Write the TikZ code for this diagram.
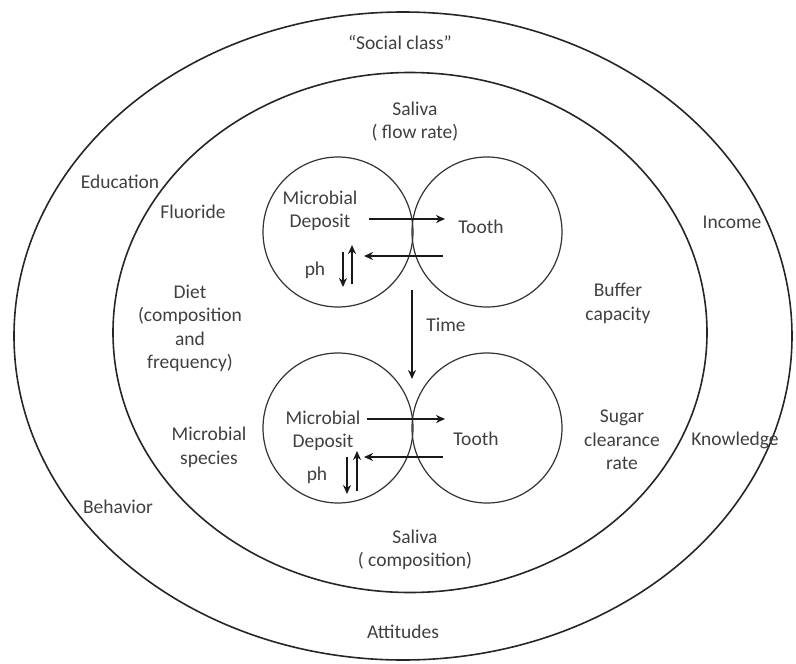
\documentclass[tikz,border=0pt]{standalone}
\usepackage{fontspec}
\setmainfont{Carlito}
\usetikzlibrary{arrows.meta,shapes.geometric}
\tikzset{
  ring/.style={ellipse,draw=black!85,line width=1.6pt,inner sep=0pt},
  zone/.style={circle,draw=black!80,line width=1.2pt,minimum size=150pt,inner sep=0pt},
}

\begin{document}
\begin{tikzpicture}[
  x=1pt,y=-1pt,
  every node/.style={font=\fontsize{19.5}{23.5}\selectfont,text=black!75},
  lab/.style={align=center,inner sep=1pt},
  flow/.style={-{Stealth[length=9pt,width=8pt]},line width=2.2pt,black!90}
]
\useasboundingbox (0,0) rectangle (796,664);

% the two rings
\node[ring,minimum width=778pt,minimum height=648pt] (outer) at (403,336) {};
\node[ring,minimum width=594pt,minimum height=520pt] (inner) at (410,332.5) {};

% deposit and tooth, before and after
\node[zone] (dep1) at (338,232) {};
\node[zone] (tth1) at (487,232) {};
\node[zone] (dep2) at (338,428) {};
\node[zone] (tth2) at (487,428) {};

% outer ring labels
\node[lab] (social) at (400,43) {“Social class”};
\node[lab] (educ) at (120,182) {Education};
\node[lab] (behav) at (118,507) {Behavior};
\node[lab] (income) at (732,222) {Income};
\node[lab] (know) at (735,440) {Knowledge};
\node[lab] (attit) at (403,632) {Attitudes};

% inner ring labels
\node[lab] (saliva1) at (415,121.5) {Saliva\\( flow rate)};
\node[lab] (fluor) at (193,212) {Fluoride};
\node[lab] (diet) at (190,328.5) {Diet\\(composition\\and\\frequency)};
\node[lab] (species) at (209,447.5) {Microbial\\species};
\node[lab] (buffer) at (618,303.5) {Buffer\\capacity};
\node[lab] (sugar) at (622,440) {Sugar\\clearance\\rate};
\node[lab] (saliva2) at (415,550) {Saliva\\( composition)};

% inside the circles
\node[lab] (md1) at (320,211) {Microbial\\Deposit};
\node[lab] (tt1) at (481,227) {Tooth};
\node[lab] (ph1) at (315,270) {ph};
\node[lab] (md2) at (323,431) {Microbial\\Deposit};
\node[lab] (tt2) at (476,439) {Tooth};
\node[lab] (ph2) at (317,475) {ph};
\node[lab] (time) at (446,325) {Time};

% arrow ends
\coordinate (a1s) at (369,219);  \coordinate (a1e) at (445,219);
\coordinate (b1s) at (443,256);  \coordinate (b1e) at (364,256);
\coordinate (c1s) at (343,252);  \coordinate (c1e) at (343,287);
\coordinate (d1s) at (352,284);  \coordinate (d1e) at (352,245);
\coordinate (a2s) at (367,419);  \coordinate (a2e) at (445,419);
\coordinate (b2s) at (443,457);  \coordinate (b2e) at (364,457);
\coordinate (c2s) at (347,457);  \coordinate (c2e) at (347,494);
\coordinate (d2s) at (357,491);  \coordinate (d2e) at (357,451);
\coordinate (ts) at (412,290);   \coordinate (te) at (412,379);

\draw[flow] (a1s) -- (a1e);
\draw[flow] (b1s) -- (b1e);
\draw[flow] (c1s) -- (c1e);
\draw[flow] (d1s) -- (d1e);
\draw[flow] (a2s) -- (a2e);
\draw[flow] (b2s) -- (b2e);
\draw[flow] (c2s) -- (c2e);
\draw[flow] (d2s) -- (d2e);
\draw[flow,line width=1.8pt] (ts) -- (te);

\end{tikzpicture}
\end{document}
